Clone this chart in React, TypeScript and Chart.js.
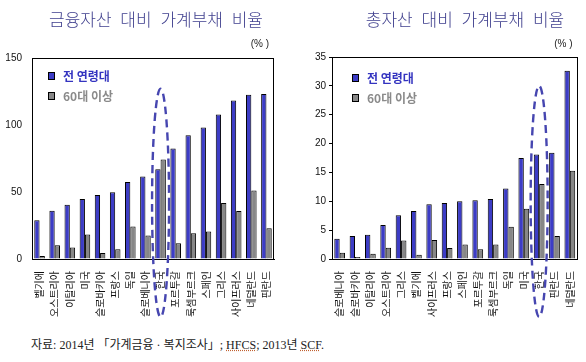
import React, { useEffect, useRef } from "react";
import { Chart, registerables } from "chart.js";

Chart.register(...registerables);

// ---------- data ----------
const leftTitle = "금융자산 대비 가계부채 비율";
const leftCategories = [
  "벨기에", "오스트리아", "이탈리아", "미국", "슬로바키아", "프랑스", "독일", "슬로베니아",
  "한국", "포르투갈", "룩셈부르크", "스페인", "그리스", "사이프러스", "네덜란드", "핀란드",
];
const leftAllAges = [29, 36, 40.5, 44.7, 47.8, 49.8, 57.5, 61.5, 67, 82.5, 92.3, 98.2, 107.8, 118.3, 122.5, 123.2];
const leftSenior = [2.2, 10.2, 8.5, 18.3, 4.4, 7.3, 24.2, 17.6, 74.2, 11.7, 19.2, 20.5, 41.7, 35.9, 51.2, 22.9];
const leftTicks = { min: 0, max: 150, step: 50 };

const rightTitle = "총자산 대비 가계부채 비율";
const rightCategories = [
  "슬로베니아", "슬로바키아", "이탈리아", "오스트리아", "그리스", "벨기에", "사이프러스", "프랑스",
  "스페인", "포르투갈", "룩셈부르크", "독일", "미국", "한국", "핀란드", "네덜란드",
];
const rightAllAges = [3.5, 4.0, 4.2, 5.9, 7.6, 8.3, 9.5, 9.7, 10.0, 10.2, 10.4, 12.2, 17.5, 18.1, 18.4, 32.6];
const rightSenior = [1.1, 0.35, 0.9, 1.95, 3.2, 0.75, 3.3, 1.9, 2.5, 1.7, 2.5, 5.6, 8.7, 13.0, 4.0, 15.3];
const rightTicks = { min: 0, max: 35, step: 5 };

const seriesNames = ["전 연령대", "60대 이상"];
const highlightCategory = "한국";
const unitLabel = "(% )";
const sourceNote = ["자료: 2014년 「가계금융 · 복지조사」; ", "HFCS", "; 2013년 ", "SCF", "."];

// ---------- styles ----------
const BLUE = "#3c3cc6";
const GRAY = "#878787";
const TITLE_COLOR = "#40408e";
const KR_FONT = "'Noto Sans CJK KR', 'Noto Sans', sans-serif";
const NUM_FONT = "'Liberation Sans', Arial, sans-serif";

type PanelProps = {
  title: string;
  categories: string[];
  allAges: number[];
  senior: number[];
  ticks: { min: number; max: number; step: number };
  yWidth: number;
  rightPad: number;
  top: number;
  tickLen: number;
  titleX: number;
  legendDx: number;
  legendDy: number;
  ellipseTop: number;
};

function Panel(p: PanelProps) {
  const ref = useRef<HTMLCanvasElement | null>(null);

  useEffect(() => {
    const canvas = ref.current;
    if (!canvas) return;

    const decor = {
      id: "decor",
      beforeDatasetsDraw(chart: any) {
        const { ctx, chartArea } = chart;
        ctx.save();
        // titles
        ctx.fillStyle = TITLE_COLOR;
        ctx.font = `300 17px ${KR_FONT}`;
        ctx.textAlign = "center";
        ctx.textBaseline = "middle";
        try {
          (ctx as any).wordSpacing = "5px";
        } catch (e) {}
        ctx.fillText(p.title, p.titleX, 20);
        try {
          (ctx as any).wordSpacing = "0px";
        } catch (e) {}
        // unit
        ctx.fillStyle = "#222";
        ctx.font = `10px ${NUM_FONT}`;
        ctx.textAlign = "right";
        ctx.fillText(unitLabel, chartArea.right - 5, 44);
        ctx.restore();
      },
      afterDatasetsDraw(chart: any) {
        const { ctx, chartArea } = chart;
        ctx.save();
        ctx.strokeStyle = "#000";
        ctx.lineWidth = 1;
        ctx.strokeRect(
          Math.round(chartArea.left) + 0.5,
          Math.round(chartArea.top) + 0.5,
          Math.round(chartArea.right - chartArea.left) - 1,
          Math.round(chartArea.bottom - chartArea.top)
        );
        // legend
        const lx = chartArea.left + p.legendDx;
        let ly = chartArea.top + p.legendDy;
        chart.data.datasets.forEach((ds: any, i: number) => {
          ctx.fillStyle = ds.backgroundColor;
          ctx.fillRect(lx, ly, 6, 7);
          ctx.strokeStyle = "#000";
          ctx.lineWidth = 1;
          ctx.strokeRect(lx + 0.5, ly + 0.5, 6, 7);
          ctx.fillStyle = i === 0 ? "#3434c0" : "#8a8a8a";
          ctx.font = `bold 12px ${KR_FONT}`;
          ctx.textAlign = "left";
          ctx.textBaseline = "middle";
          ctx.fillText(ds.label, lx + 15, ly + 4);
          ly += 20;
        });
        ctx.restore();
      },
      afterDraw(chart: any) {
        const { ctx, chartArea, scales } = chart;
        const idx = p.categories.indexOf(highlightCategory);
        const cx = scales.x.getPixelForValue(idx);
        const top = scales.y.getPixelForValue(p.ellipseTop);
        const bottom = chartArea.bottom + 58;
        ctx.save();
        ctx.strokeStyle = "#4646b0";
        ctx.lineWidth = 2.4;
        ctx.setLineDash([8, 5]);
        ctx.beginPath();
        ctx.ellipse(cx, (top + bottom) / 2, 8.5, (bottom - top) / 2, 0, 0, Math.PI * 2);
        ctx.stroke();
        ctx.restore();
      },
    };

    const chart = new Chart(canvas, {
      type: "bar",
      data: {
        labels: p.categories,
        datasets: [
          {
            label: seriesNames[0],
            data: p.allAges,
            backgroundColor: BLUE,
            borderColor: "#000",
            borderWidth: 1,
            categoryPercentage: 0.7,
            barPercentage: 1,
          },
          {
            label: seriesNames[1],
            data: p.senior,
            backgroundColor: GRAY,
            borderColor: "#000",
            borderWidth: 1,
            categoryPercentage: 0.7,
            barPercentage: 1,
          },
        ],
      },
      options: {
        animation: false,
        responsive: false,
        maintainAspectRatio: false,
        events: [],
        layout: { padding: { top: p.top, right: p.rightPad, left: 0, bottom: 0 } },
        plugins: {
          legend: { display: false },
          title: { display: false },
          tooltip: { enabled: false },
        },
        scales: {
          x: {
            grid: { display: false },
            border: { display: true, color: "#000", width: 1 },
            ticks: {
              autoSkip: false,
              minRotation: 90,
              maxRotation: 90,
              padding: 4,
              color: "#111",
              font: { family: KR_FONT, size: 10 },
            },
            afterFit: (s: any) => {
              s.height = 71;
            },
          },
          y: {
            min: p.ticks.min,
            max: p.ticks.max,
            grid: {
              display: true,
              drawOnChartArea: false,
              drawTicks: p.tickLen > 0,
              tickLength: p.tickLen,
              color: "#000",
            },
            border: { display: true, color: "#000", width: 1 },
            ticks: {
              stepSize: p.ticks.step,
              padding: p.tickLen > 0 ? 3 : 10,
              color: "#111",
              font: { family: NUM_FONT, size: 10 },
            },
            afterFit: (s: any) => {
              s.width = p.yWidth;
            },
          },
        },
      },
      plugins: [decor],
    } as any);

    return () => chart.destroy();
  }, []);

  return <canvas ref={ref} width={293} height={330} style={{ display: "block", width: 293, height: 330 }} />;
}

export default function App() {
  return (
    <div style={{ position: "absolute", left: 0, top: 0, width: 586, height: 362, background: "#fff", overflow: "hidden" }}>
      <div style={{ position: "absolute", left: 0, top: 0 }}>
        <Panel
          title={leftTitle}
          categories={leftCategories}
          allAges={leftAllAges}
          senior={leftSenior}
          ticks={leftTicks}
          yWidth={32}
          rightPad={19}
          top={58}
          tickLen={0}
          titleX={156}
          legendDx={16}
          legendDy={14}
          ellipseTop={127}
        />
      </div>
      <div style={{ position: "absolute", left: 293, top: 0 }}>
        <Panel
          title={rightTitle}
          categories={rightCategories}
          allAges={rightAllAges}
          senior={rightSenior}
          ticks={rightTicks}
          yWidth={39}
          rightPad={5}
          top={57}
          tickLen={3}
          titleX={172}
          legendDx={20}
          legendDy={17}
          ellipseTop={30}
        />
      </div>
      <div
        style={{
          position: "absolute",
          left: 31,
          top: 337,
          fontFamily: "'Liberation Serif', 'Noto Sans CJK KR', serif",
          fontSize: 12,
          color: "#222",
          whiteSpace: "nowrap",
          lineHeight: "16px",
        }}
      >
        {sourceNote.map((t, i) =>
          i === 1 || i === 3 ? (
            <span key={i} style={{ textDecoration: "underline dotted #c06030" }}>
              {t}
            </span>
          ) : (
            <span key={i}>{t}</span>
          )
        )}
      </div>
    </div>
  );
}
